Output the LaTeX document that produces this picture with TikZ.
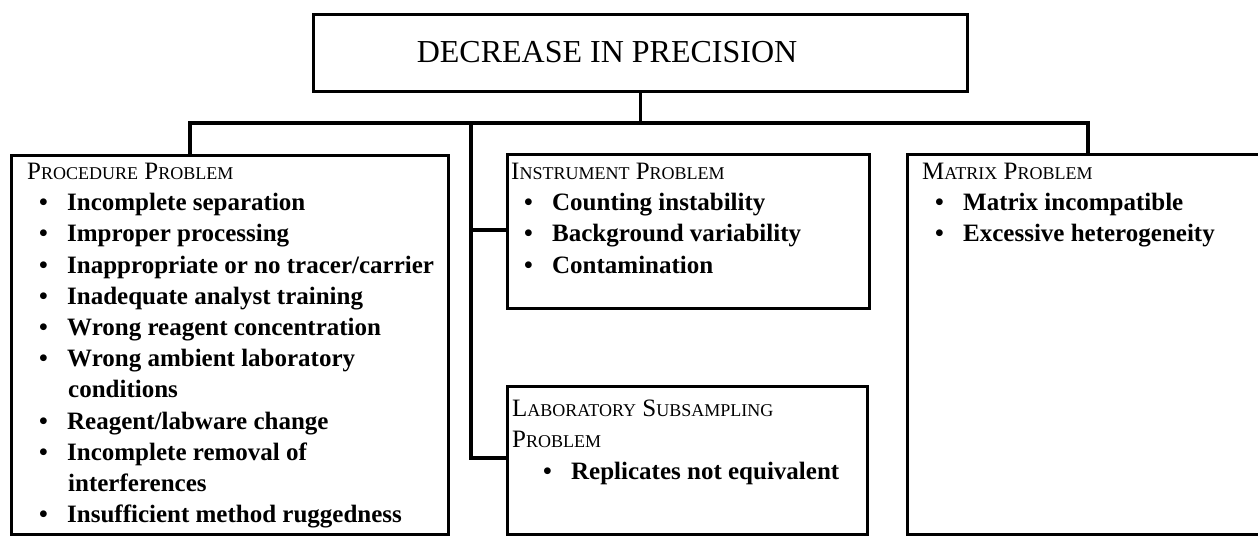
\documentclass[tikz,border=0pt]{standalone}
\usepackage{fontspec}
\setmainfont{Liberation Serif}
\usetikzlibrary{positioning}
\newcommand{\smcap}[2]{{\mdseries#1{\fontsize{18}{18}\selectfont#2}}}
\newcommand{\itm}[2][13pt]{\hspace*{#1}\makebox[28pt][l]{\textbullet}#2}
\newcommand{\wrp}[1]{\hspace*{41pt}#1}

\begin{document}
\begin{tikzpicture}[x=1pt,y=-1pt,
  box/.style={draw,line width=3.2pt,inner sep=0pt,anchor=north west},
  list/.style={anchor=north west,align=left,inner sep=0pt,
    font=\fontsize{25}{31.2}\selectfont\bfseries},
  link/.style={line width=3.2pt}]
\useasboundingbox (0,0) rectangle (1258,536);
\clip (0,0) rectangle (1258,536);

% boxes
\node[box,minimum width=654pt,minimum height=77pt] (top) at (312,13) {};
\node[box,minimum width=437pt,minimum height=379pt] (proc) at (10,154) {};
\node[box,minimum width=362pt,minimum height=154pt] (instr) at (506,153) {};
\node[box,minimum width=360pt,minimum height=148pt] (lab) at (506,385) {};
\node[box,minimum width=400pt,minimum height=380pt] (matr) at (906,153) {};

% texts
\node[font=\fontsize{32}{38}\selectfont,inner sep=0pt] (toptxt) at (607,52) {DECREASE IN PRECISION};
\node[list] (proctxt) at (27,163) {\smcap{P}{ROCEDURE} \smcap{P}{ROBLEM}\\
  \itm[12pt]{Incomplete separation}\\
  \itm[12pt]{Improper processing}\\
  \itm[12pt]{Inappropriate or no tracer/carrier}\\
  \itm[12pt]{Inadequate analyst training}\\
  \itm[12pt]{Wrong reagent concentration}\\
  \itm[12pt]{Wrong ambient laboratory}\\
  \wrp{conditions}\\
  \itm[12pt]{Reagent/labware change}\\
  \itm[12pt]{Incomplete removal of}\\
  \wrp{interferences}\\
  \itm[12pt]{Insufficient method ruggedness}};
\node[list] (instrtxt) at (511,163) {\smcap{I}{NSTRUMENT} \smcap{P}{ROBLEM}\\
  \itm{Counting instability}\\
  \itm{Background variability}\\
  \itm{Contamination}};
\node[list] (labtxt) at (512,400) {\smcap{L}{ABORATORY} \smcap{S}{UBSAMPLING}\\
  \smcap{P}{ROBLEM}\\
  \itm[31pt]{Replicates not equivalent}};
\node[list] (matrtxt) at (922,163) {\smcap{M}{ATRIX} \smcap{P}{ROBLEM}\\
  \itm{Matrix incompatible}\\
  \itm{Excessive heterogeneity}};

% connectors
\coordinate (dropL) at (190,123);
\coordinate (dropR) at (1088,123);
\coordinate (spine) at (471,123);
\draw[link] (top.south) -- (top.south |- spine);
\draw[link] (dropL |- proc.north) -- (dropL) -- (dropR) -- (dropR |- matr.north);
\draw[link] (spine) |- (0,458 -| lab.west);
\draw[link] (spine |- 0,230) -- (instr.west |- 0,230);

\end{tikzpicture}
\end{document}
